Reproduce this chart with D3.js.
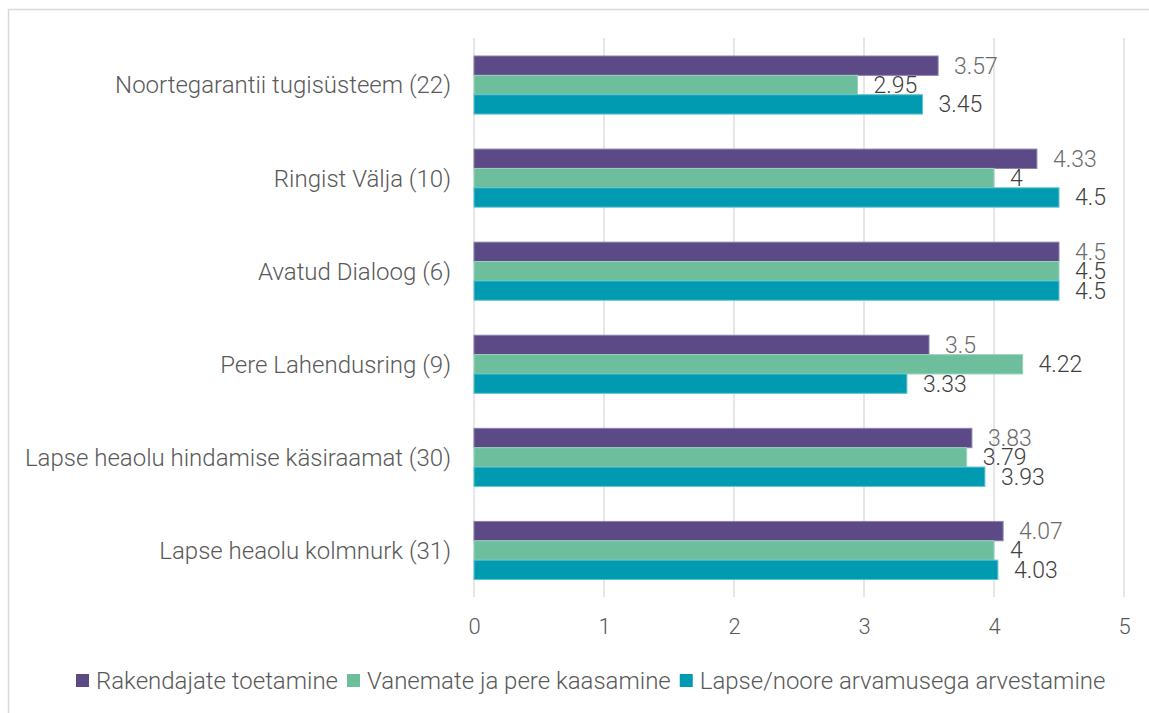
<!DOCTYPE html>
<html><head><meta charset="utf-8">
<script src="https://cdn.jsdelivr.net/npm/d3@7"></script>
<style>body{margin:0;background:#fff;}svg{display:block;font-family:Roboto,"Open Sans",sans-serif;}</style>
</head><body>
<svg id="c" width="1149" height="713"></svg>
<script>
const categories = ["Noortegarantii tugisüsteem (22)","Ringist Välja (10)","Avatud Dialoog (6)","Pere Lahendusring (9)","Lapse heaolu hindamise käsiraamat (30)","Lapse heaolu kolmnurk (31)"];
const seriesNames = ["Rakendajate toetamine","Vanemate ja pere kaasamine","Lapse/noore arvamusega arvestamine"];
const rakendajate = [3.57, 4.33, 4.5, 3.5, 3.83, 4.07];
const vanemate = [2.95, 4, 4.5, 4.22, 3.79, 4];
const lapse = [3.45, 4.5, 4.5, 3.33, 3.93, 4.03];
const xTicks = [0,1,2,3,4,5];
const colors = ["#5B4A86","#6DBE9C","#009BB0"];
const strokes = ["#8b80b0","#9ad3bb","#5fc3cf"];
const labelColors = ["#6a6a6a","#404040","#404040"];
const seriesValues = [rakendajate, vanemate, lapse];

const svg = d3.select("#c");
svg.append("rect").attr("x",8.5).attr("y",9.5).attr("width",1160).attr("height",720)
  .attr("fill","#fff").attr("stroke","#d9d9d9").attr("stroke-width",1.5);

const x = d3.scaleLinear().domain([0,5]).range([474,1124]);
const y = d3.scaleBand().domain(categories).range([38.5,597]).paddingInner(0.376).paddingOuter(0.188);
const ys = d3.scaleBand().domain(d3.range(3)).range([0,y.bandwidth()]);

// gridlines
svg.append("g").selectAll("line").data(xTicks).join("line")
  .attr("x1",d=>x(d)).attr("x2",d=>x(d)).attr("y1",38).attr("y2",597)
  .attr("stroke","#d9d9d9").attr("stroke-width",1.3);

// x axis labels
const xa = svg.append("g").attr("transform","translate(0,597)")
  .call(d3.axisBottom(x).tickValues(xTicks).tickFormat(d3.format("d")).tickSize(0).tickPadding(21));
xa.select(".domain").remove();
xa.selectAll("text").attr("font-size",22).attr("fill","#595959").attr("font-family","Roboto").attr("font-weight",300);

// y axis labels
const ya = svg.append("g").attr("transform","translate(451,0)")
  .call(d3.axisLeft(y).tickSize(0).tickPadding(0));
ya.select(".domain").remove();
ya.selectAll("text").attr("font-size",24).attr("fill","#595959").attr("font-family","Roboto").attr("font-weight",300).attr("dy","0.35em");

// bars
const groups = svg.append("g").selectAll("g").data(categories).join("g")
  .attr("transform",c=>`translate(0,${y(c)})`);
groups.each(function(c,i){
  const g = d3.select(this);
  seriesValues.forEach((vals,s)=>{
    const v = vals[i];
    g.append("rect").attr("x",x(0)).attr("y",ys(s)).attr("width",x(v)-x(0)).attr("height",ys.bandwidth())
      .attr("fill",colors[s]).attr("stroke",strokes[s]).attr("stroke-width",1);
  });
  seriesValues.forEach((vals,s)=>{
    const v = vals[i];
    g.append("text").attr("x",x(v)+16).attr("y",ys(s)+ys.bandwidth()/2+8)
      .attr("font-size",23).attr("font-weight",300)
      .attr("fill",labelColors[s]).text(v);
  });
});

// legend
const legend = svg.append("g");
let lx = 76;
seriesNames.forEach((n,s)=>{
  legend.append("rect").attr("x",lx).attr("y",674).attr("width",13).attr("height",13).attr("fill",colors[s]);
  const t = legend.append("text").attr("x",lx+20).attr("y",689).attr("font-size",24).attr("font-weight",300)
    .attr("fill","#595959").text(n);
  lx += 20 + t.node().getComputedTextLength() + 9;
});
</script>
</body></html>
